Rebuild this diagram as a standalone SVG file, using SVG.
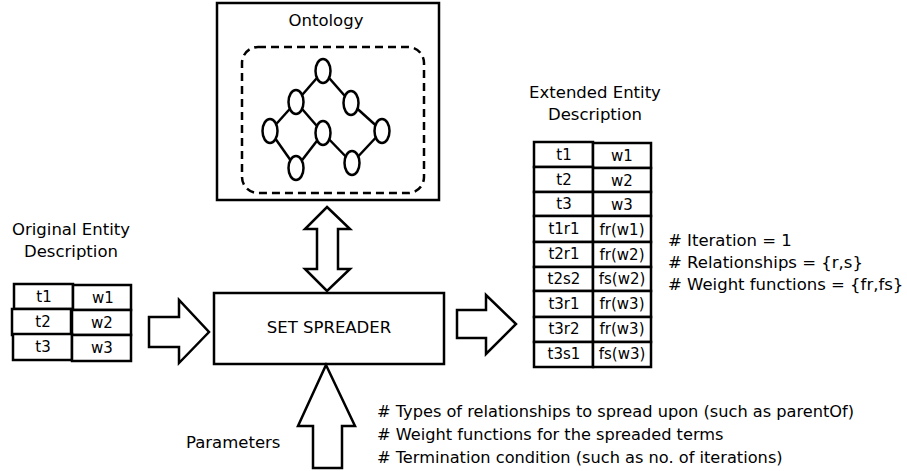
<svg xmlns="http://www.w3.org/2000/svg" width="907" height="471" viewBox="0 0 907 471">
  <style>
    .box { fill: #fff; stroke: #000; stroke-width: 2.5; }
    .cell { fill: #fff; stroke: #000; stroke-width: 2.5; }
    .arrow { fill: #fff; stroke: #000; stroke-width: 2.5; stroke-linejoin: miter; }
    .edge { stroke: #000; stroke-width: 2.5; fill: none; }
    .node { fill: #fff; stroke: #000; stroke-width: 2.5; }
    text { font-family: "DejaVu Sans", "Liberation Sans", sans-serif; fill: #000; }
    .lbl { font-size: 16.5px; }
    .note { font-size: 16.2px; }
    .c { font-size: 15px; text-anchor: middle; }
    .t { font-size: 16.5px; text-anchor: middle; }
  </style>

  <!-- Ontology panel -->
  <g id="ontology">
    <rect class="box" x="217" y="3" width="222" height="197"/>
    <text class="t" x="326" y="26">Ontology</text>
    <rect x="242" y="47" width="182" height="146" rx="16" fill="none" stroke="#000" stroke-width="2.5" stroke-dasharray="8,5"/>
    <g class="edges">
      <line class="edge" x1="323" y1="71" x2="296" y2="102"/>
      <line class="edge" x1="323" y1="71" x2="351" y2="103"/>
      <line class="edge" x1="296" y1="102" x2="270" y2="131"/>
      <line class="edge" x1="296" y1="102" x2="323" y2="133"/>
      <line class="edge" x1="351" y1="103" x2="382" y2="131"/>
      <line class="edge" x1="270" y1="131" x2="296" y2="168"/>
      <line class="edge" x1="323" y1="133" x2="296" y2="168"/>
      <line class="edge" x1="323" y1="133" x2="352" y2="163"/>
      <line class="edge" x1="382" y1="131" x2="352" y2="163"/>
    </g>
    <ellipse class="node" cx="323" cy="71" rx="7.5" ry="12"/>
    <ellipse class="node" cx="296" cy="102" rx="7.5" ry="12"/>
    <ellipse class="node" cx="351" cy="103" rx="7.5" ry="12"/>
    <ellipse class="node" cx="270" cy="131" rx="7.5" ry="12"/>
    <ellipse class="node" cx="323" cy="133" rx="7.5" ry="12"/>
    <ellipse class="node" cx="382" cy="131" rx="7.5" ry="12"/>
    <ellipse class="node" cx="296" cy="168" rx="7.5" ry="12"/>
    <ellipse class="node" cx="352" cy="163" rx="7.5" ry="12"/>
  </g>

  <!-- Original entity description -->
  <g id="original">
    <text class="t" x="71" y="235">Original Entity</text>
    <text class="t" x="71" y="257">Description</text>
    <rect class="cell" x="14" y="284" width="59" height="25"/>
    <rect class="cell" x="73" y="285" width="58" height="25"/>
    <rect class="cell" x="12" y="309" width="59" height="26"/>
    <rect class="cell" x="72" y="310" width="59" height="25"/>
    <rect class="cell" x="13" y="334" width="59" height="26"/>
    <rect class="cell" x="72" y="335" width="59" height="26"/>
    <text class="c" x="44" y="302">t1</text>
    <text class="c" x="103" y="303">w1</text>
    <text class="c" x="43" y="327">t2</text>
    <text class="c" x="102" y="328">w2</text>
    <text class="c" x="43" y="352">t3</text>
    <text class="c" x="102" y="353">w3</text>
  </g>

  <!-- Spreader -->
  <g id="spreader">
    <rect class="box" x="214" y="293" width="230" height="71"/>
    <text class="t" x="329" y="333">SET SPREADER</text>
  </g>

  <!-- Extended entity description -->
  <g id="extended">
    <text class="t" x="595" y="98">Extended Entity</text>
    <text class="t" x="595" y="120">Description</text>
    <g>
      <rect class="cell" x="534" y="142" width="59" height="25"/>
      <rect class="cell" x="593" y="143" width="58" height="25"/>
      <rect class="cell" x="534" y="167" width="59" height="25"/>
      <rect class="cell" x="593" y="168" width="58" height="24"/>
      <rect class="cell" x="534" y="192" width="59" height="24"/>
      <rect class="cell" x="593" y="192" width="58" height="24"/>
      <rect class="cell" x="534" y="216" width="59" height="26"/>
      <rect class="cell" x="593" y="216" width="58" height="26"/>
      <rect class="cell" x="534" y="242" width="59" height="25"/>
      <rect class="cell" x="593" y="242" width="58" height="25"/>
      <rect class="cell" x="534" y="267" width="59" height="24"/>
      <rect class="cell" x="593" y="267" width="58" height="24"/>
      <rect class="cell" x="534" y="291" width="59" height="26"/>
      <rect class="cell" x="593" y="291" width="58" height="26"/>
      <rect class="cell" x="534" y="317" width="59" height="25"/>
      <rect class="cell" x="593" y="317" width="58" height="25"/>
      <rect class="cell" x="534" y="342" width="59" height="25"/>
      <rect class="cell" x="593" y="342" width="58" height="25"/>
    </g>
    <text class="c" x="564" y="160">t1</text>
    <text class="c" x="622" y="161">w1</text>
    <text class="c" x="564" y="185">t2</text>
    <text class="c" x="622" y="186">w2</text>
    <text class="c" x="564" y="209">t3</text>
    <text class="c" x="622" y="210">w3</text>
    <text class="c" x="564" y="234">t1r1</text>
    <text class="c" x="622" y="235">fr(w1)</text>
    <text class="c" x="564" y="259">t2r1</text>
    <text class="c" x="622" y="260">fr(w2)</text>
    <text class="c" x="564" y="284">t2s2</text>
    <text class="c" x="622" y="284">fs(w2)</text>
    <text class="c" x="564" y="309">t3r1</text>
    <text class="c" x="622" y="309">fr(w3)</text>
    <text class="c" x="564" y="334">t3r2</text>
    <text class="c" x="622" y="334">fr(w3)</text>
    <text class="c" x="564" y="359">t3s1</text>
    <text class="c" x="622" y="359">fs(w3)</text>
  </g>

  <!-- Iteration notes -->
  <g id="iteration-notes">
    <text class="lbl" x="668" y="246"># Iteration = 1</text>
    <text class="lbl" x="668" y="268"># Relationships = {r,s}</text>
    <text class="lbl" x="668" y="290"># Weight functions = {fr,fs}</text>
  </g>

  <!-- Parameters -->
  <g id="parameters">
    <text class="lbl" x="186" y="448">Parameters</text>
    <text class="note" x="377" y="417"># Types of relationships to spread upon (such as parentOf)</text>
    <text class="note" x="377" y="440"># Weight functions for the spreaded terms</text>
    <text class="note" x="377" y="463"># Termination condition (such as no. of iterations)</text>
  </g>

  <!-- Block arrows -->
  <g id="connectors">
    <polygon class="arrow" points="149,317 179,317 179,300 209,332 179,363 179,347 149,347"/>
    <polygon class="arrow" points="457,310 486,310 486,295 516,324 486,354 486,338 457,338"/>
    <polygon class="arrow" points="327,207 350,229 338,229 338,269 350,269 327,291 305,269 317,269 317,229 305,229"/>
    <polygon class="arrow" points="326,365 355,426 342,426 342,468 313,468 313,426 298,426"/>
  </g>
</svg>
